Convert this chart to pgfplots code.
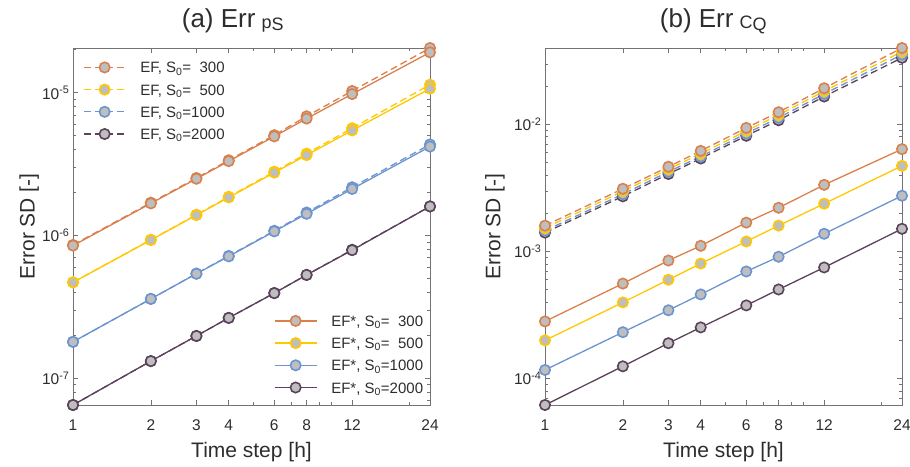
\documentclass[border=0pt]{standalone}
\usepackage{pgfplots}
\pgfplotsset{compat=1.18}
\usepackage{pgfplotstable}
\usepackage{fontspec}
\setmainfont{Liberation Sans}
\definecolor{cO}{RGB}{217,128,77}
\definecolor{cY}{RGB}{255,200,0}
\definecolor{cB}{RGB}{108,148,208}
\definecolor{cP}{RGB}{92,66,92}
\definecolor{mfill}{RGB}{190,190,190}
\definecolor{axgray}{RGB}{115,115,115}
\definecolor{txtgray}{RGB}{45,45,45}

% left panel, EF* (solid)
\pgfplotstableread{
t o y b p
1 8.5e-7 4.7e-7 1.8e-7 6.5e-8
2 1.68e-6 9.3e-7 3.6e-7 1.32e-7
3 2.5e-6 1.39e-6 5.4e-7 1.98e-7
4 3.32e-6 1.85e-6 7.15e-7 2.65e-7
6 4.95e-6 2.76e-6 1.07e-6 3.95e-7
8 6.6e-6 3.66e-6 1.42e-6 5.3e-7
12 9.8e-6 5.45e-6 2.12e-6 7.9e-7
24 1.92e-5 1.07e-5 4.2e-6 1.6e-6
}\LS
% left panel, EF (dashed)
\pgfplotstableread{
t o y b p
1 8.6e-7 4.7e-7 1.8e-7 6.5e-8
2 1.7e-6 9.35e-7 3.6e-7 1.32e-7
3 2.53e-6 1.4e-6 5.42e-7 1.98e-7
4 3.37e-6 1.87e-6 7.2e-7 2.65e-7
6 5.05e-6 2.8e-6 1.08e-6 3.96e-7
8 6.85e-6 3.75e-6 1.45e-6 5.3e-7
12 1.03e-5 5.65e-6 2.18e-6 7.95e-7
24 2.06e-5 1.14e-5 4.35e-6 1.6e-6
}\LD
% right panel, EF* (solid)
\pgfplotstableread{
t o y b p
1 2.82e-4 2.0e-4 1.17e-4 6.2e-5
2 5.6e-4 3.98e-4 2.32e-4 1.25e-4
3 8.5e-4 6.0e-4 3.45e-4 1.9e-4
4 1.11e-3 8.05e-4 4.6e-4 2.53e-4
6 1.69e-3 1.2e-3 6.97e-4 3.77e-4
8 2.21e-3 1.6e-3 9.1e-4 5.03e-4
12 3.35e-3 2.38e-3 1.38e-3 7.5e-4
24 6.4e-3 4.73e-3 2.75e-3 1.51e-3
}\RS
% right panel, EF (dashed)
\pgfplotstableread{
t o y b p
1 1.6e-3 1.53e-3 1.46e-3 1.41e-3
2 3.12e-3 2.98e-3 2.83e-3 2.72e-3
3 4.65e-3 4.45e-3 4.25e-3 4.08e-3
4 6.2e-3 5.9e-3 5.6e-3 5.4e-3
6 9.4e-3 8.9e-3 8.5e-3 8.15e-3
8 1.25e-2 1.19e-2 1.13e-2 1.08e-2
12 1.93e-2 1.83e-2 1.74e-2 1.66e-2
24 4.0e-2 3.75e-2 3.55e-2 3.35e-2
}\RD

\tikzset{
  mySol/.style={solid, line width=1.3pt, mark=*, mark size=5.2pt, mark options={solid, fill=mfill, line width=1.6pt}},
  myDas/.style={mySol, dash pattern=on 7pt off 4pt},
}
\pgfplotsset{
  myLeg/.style={
    legend cell align=left,
    legend image code/.code={%
      \draw[mark repeat=2,mark phase=2] plot coordinates {(0pt,0pt)(21pt,0pt)(42pt,0pt)};
      \path (56pt,0pt);},
    legend style={draw=none, fill=none, inner sep=0pt, outer sep=0pt, row sep=11.2pt,
      nodes={inner sep=0pt, text height=11pt, text depth=0pt, font=\fontsize{15}{18}\selectfont, text=txtgray}},
  },
  myPanel/.style={
    scale only axis, width=357pt, height=357pt,
    xmin=1, xmax=24,
    xtick={1,2,3,4,6,8,12,24}, xticklabels={1,2,3,4,6,8,12,24},
    minor xtick={5,7,9,10,20},
    axis line style={axgray, line width=0.7pt},
    tick style={axgray, line width=0.7pt},
    major tick length=5pt, minor tick length=3pt,
    tick label style={font=\fontsize{15.5}{18}\selectfont, text=txtgray},
    xticklabel style={yshift=-11pt},
    label style={font=\fontsize{21}{24}\selectfont, text=txtgray},
    title style={font=\fontsize{26}{30}\selectfont, text=txtgray, anchor=base west},
    clip=false,
    xlabel={Time step [h]}, ylabel={Error SD [-]},
    xlabel style={at={(axis description cs:0.5,-0.132)}, anchor=center},
    myLeg,
  },
}

\begin{document}
\begin{tikzpicture}
\useasboundingbox (0,0) rectangle (910pt,466pt);
% ---------------- (a) ----------------
\begin{axis}[xmode=log, ymode=log, myPanel, at={(73pt,61pt)}, anchor=south west,
  ymin=6.5e-8, ymax=2.06e-5,
  ytick={1e-7,1e-6,1e-5},
  yticklabels={10\textsuperscript{-7},10\textsuperscript{-6},10\textsuperscript{-5}},
  minor ytick={7e-8,8e-8,9e-8,2e-7,3e-7,4e-7,5e-7,6e-7,7e-7,8e-7,9e-7,2e-6,3e-6,4e-6,5e-6,6e-6,7e-6,8e-6,9e-6,2e-5},
  ylabel style={at={(axis description cs:-0.123,0.5)}, anchor=center},
  title={(a) Err\hspace{6pt}{\fontsize{18}{18}\selectfont\raisebox{-1.5pt}{p\raisebox{-2pt}{S}}}},
  title style={at={(axis description cs:0.295,1.042)}},
  legend style={at={(rel axis cs:0.028,0.961)}, anchor=north west}]
\addlegendimage{myDas, cO}\addlegendentry{EF, S\textsubscript{0}=\hphantom{0}300}
\addlegendimage{myDas, cY}\addlegendentry{EF, S\textsubscript{0}=\hphantom{0}500}
\addlegendimage{myDas, cB}\addlegendentry{EF, S\textsubscript{0}=1000}
\addlegendimage{myDas, cP}\addlegendentry{EF, S\textsubscript{0}=2000}
\addplot[myDas, cP, forget plot] table[x=t, y=p] {\LD};
\addplot[myDas, cB, forget plot] table[x=t, y=b] {\LD};
\addplot[myDas, cY, forget plot] table[x=t, y=y] {\LD};
\addplot[myDas, cO, forget plot] table[x=t, y=o] {\LD};
\addplot[mySol, cP, forget plot] table[x=t, y=p] {\LS};
\addplot[mySol, cB, forget plot] table[x=t, y=b] {\LS};
\addplot[mySol, cY, forget plot] table[x=t, y=y] {\LS};
\addplot[mySol, cO, forget plot] table[x=t, y=o] {\LS};
\end{axis}
\begin{axis}[xmode=log, ymode=log, scale only axis, width=357pt, height=357pt, at={(73pt,61pt)}, anchor=south west,
  xmin=1, xmax=24, ymin=6.5e-8, ymax=2.06e-5, hide axis, myLeg,
  legend style={at={(rel axis cs:0.563,0.251)}, anchor=north west}]
\addlegendimage{mySol, cO}\addlegendentry{EF*, S\textsubscript{0}=\hphantom{0}300}
\addlegendimage{mySol, cY}\addlegendentry{EF*, S\textsubscript{0}=\hphantom{0}500}
\addlegendimage{mySol, cB}\addlegendentry{EF*, S\textsubscript{0}=1000}
\addlegendimage{mySol, cP}\addlegendentry{EF*, S\textsubscript{0}=2000}
\end{axis}
% ---------------- (b) ----------------
\begin{axis}[xmode=log, ymode=log, myPanel, at={(545pt,61pt)}, anchor=south west,
  ymin=6.2e-5, ymax=4.0e-2,
  ytick={1e-4,1e-3,1e-2},
  yticklabels={10\textsuperscript{-4},10\textsuperscript{-3},10\textsuperscript{-2}},
  minor ytick={7e-5,8e-5,9e-5,2e-4,3e-4,4e-4,5e-4,6e-4,7e-4,8e-4,9e-4,2e-3,3e-3,4e-3,5e-3,6e-3,7e-3,8e-3,9e-3,2e-2,3e-2,4e-2},
  ylabel style={at={(axis description cs:-0.14,0.5)}, anchor=center},
  title={(b) Err\hspace{6pt}{\fontsize{18}{18}\selectfont\raisebox{-1.5pt}{C\raisebox{-2pt}{Q}}}},
  title style={at={(axis description cs:0.312,1.042)}}]
\addplot[myDas, cP] table[x=t, y=p] {\RD};
\addplot[myDas, cB] table[x=t, y=b] {\RD};
\addplot[myDas, cY] table[x=t, y=y] {\RD};
\addplot[myDas, cO] table[x=t, y=o] {\RD};
\addplot[mySol, cP] table[x=t, y=p] {\RS};
\addplot[mySol, cB] table[x=t, y=b] {\RS};
\addplot[mySol, cY] table[x=t, y=y] {\RS};
\addplot[mySol, cO] table[x=t, y=o] {\RS};
\end{axis}
\end{tikzpicture}
\end{document}
